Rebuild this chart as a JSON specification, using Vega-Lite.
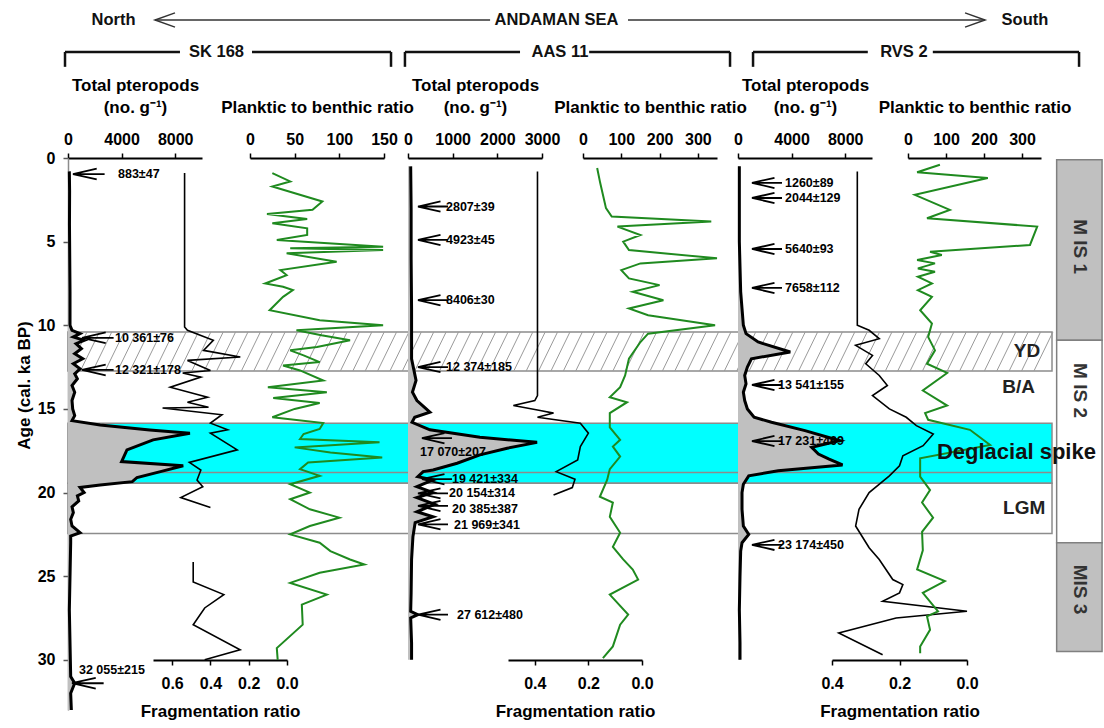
{
"$schema":"https://vega.github.io/schema/vega-lite/v6.json",
"width":1032,"height":552,
"autosize":{"type":"none"},
"padding":{"left":68,"top":158,"right":4,"bottom":18},
"background":"white",
"config":{
 "view":{"stroke":null},
 "font":"Liberation Sans",
 "text":{"font":"Liberation Sans","fontWeight":"bold","color":"black"},
 "axis":{"grid":false,"labelFont":"Liberation Sans","titleFont":"Liberation Sans","labelFontSize":16,"labelFontWeight":"bold","titleFontSize":17,"titleFontWeight":"bold","labelColor":"black","titleColor":"black","domainColor":"black","domainWidth":2,"tickColor":"black","tickWidth":1.5,"tickSize":5,"labelPadding":6,"titlePadding":15,"titleLineHeight":22,"labelOverlap":false,"labelFlush":false},
 "axisBottom":{"labelPadding":10,"titlePadding":12}
},
"datasets":{
 "bands":[{"k":"YD","age":10.4,"age2":12.73},{"k":"DS","age":15.85,"age2":19.45},{"k":"LGM","age":19.45,"age2":22.45}],
 "mis":[{"k":"MIS1","age":0.1,"age2":10.9,"t":"M IS 1","ta":5.3},{"k":"MIS2","age":10.9,"age2":23.0,"t":"M IS 2","ta":13.9},{"k":"MIS3","age":23.0,"age2":29.5,"t":"MIS 3","ta":25.8}],
 "hatch":[{"h":0,"age":12.73,"age2":10.4},{"h":1.2,"age":12.73,"age2":10.4},{"h":2.4,"age":12.73,"age2":10.4},{"h":3.6,"age":12.73,"age2":10.4},{"h":4.8,"age":12.73,"age2":10.4},{"h":6,"age":12.73,"age2":10.4},{"h":7.2,"age":12.73,"age2":10.4},{"h":8.4,"age":12.73,"age2":10.4},{"h":9.6,"age":12.73,"age2":10.4},{"h":10.8,"age":12.73,"age2":10.4},{"h":12,"age":12.73,"age2":10.4},{"h":13.2,"age":12.73,"age2":10.4},{"h":14.4,"age":12.73,"age2":10.4},{"h":15.6,"age":12.73,"age2":10.4},{"h":16.8,"age":12.73,"age2":10.4},{"h":18,"age":12.73,"age2":10.4},{"h":19.2,"age":12.73,"age2":10.4},{"h":20.4,"age":12.73,"age2":10.4},{"h":21.6,"age":12.73,"age2":10.4},{"h":22.8,"age":12.73,"age2":10.4},{"h":24,"age":12.73,"age2":10.4},{"h":25.2,"age":12.73,"age2":10.4},{"h":26.4,"age":12.73,"age2":10.4},{"h":27.6,"age":12.73,"age2":10.4},{"h":28.8,"age":12.73,"age2":10.4},{"h":30,"age":12.73,"age2":10.4},{"h":31.2,"age":12.73,"age2":10.4},{"h":32.4,"age":12.73,"age2":10.4},{"h":33.6,"age":12.73,"age2":10.4},{"h":34.8,"age":12.73,"age2":10.4},{"h":36,"age":12.73,"age2":10.4},{"h":37.2,"age":12.73,"age2":10.4},{"h":38.4,"age":12.73,"age2":10.4},{"h":39.6,"age":12.73,"age2":10.4},{"h":40.8,"age":12.73,"age2":10.4},{"h":42,"age":12.73,"age2":10.4},{"h":43.2,"age":12.73,"age2":10.4},{"h":44.4,"age":12.73,"age2":10.4},{"h":45.6,"age":12.73,"age2":10.4},{"h":46.8,"age":12.73,"age2":10.4},{"h":48,"age":12.73,"age2":10.4},{"h":49.2,"age":12.73,"age2":10.4},{"h":50.4,"age":12.73,"age2":10.4},{"h":51.6,"age":12.73,"age2":10.4},{"h":52.8,"age":12.73,"age2":10.4},{"h":54,"age":12.73,"age2":10.4},{"h":55.2,"age":12.73,"age2":10.4},{"h":56.4,"age":12.73,"age2":10.4},{"h":57.6,"age":12.73,"age2":10.4},{"h":58.8,"age":12.73,"age2":10.4},{"h":60,"age":12.73,"age2":10.4},{"h":61.2,"age":12.73,"age2":10.4},{"h":62.4,"age":12.73,"age2":10.4},{"h":63.6,"age":12.73,"age2":10.4},{"h":64.8,"age":12.73,"age2":10.4},{"h":66,"age":12.73,"age2":10.4},{"h":67.2,"age":12.73,"age2":10.4},{"h":68.4,"age":12.73,"age2":10.4},{"h":69.6,"age":12.73,"age2":10.4},{"h":70.8,"age":12.73,"age2":10.4},{"h":72,"age":12.73,"age2":10.4},{"h":73.2,"age":12.73,"age2":10.4},{"h":74.4,"age":12.73,"age2":10.4},{"h":75.6,"age":12.73,"age2":10.4},{"h":76.8,"age":12.73,"age2":10.4},{"h":78,"age":12.73,"age2":10.4},{"h":79.2,"age":12.73,"age2":10.4},{"h":80.4,"age":12.73,"age2":10.4},{"h":81.6,"age":12.73,"age2":10.4},{"h":82.8,"age":12.73,"age2":10.4},{"h":84,"age":12.73,"age2":10.4},{"h":85.2,"age":12.73,"age2":10.4},{"h":86.4,"age":12.73,"age2":10.4},{"h":87.6,"age":12.73,"age2":10.4},{"h":88.8,"age":12.73,"age2":10.4},{"h":90,"age":12.73,"age2":10.4},{"h":91.2,"age":12.73,"age2":10.4},{"h":92.4,"age":12.73,"age2":10.4},{"h":93.6,"age":12.73,"age2":10.4}],
 "rlab":[{"t":"YD","x":94.2,"age":11.55},{"t":"B/A","x":93.7,"age":13.7},{"t":"LGM","x":94.7,"age":20.9}],
 "htext":[{"t":"North","x":4.41,"age":-8.25},{"t":"ANDAMAN SEA","x":47.33,"age":-8.25},{"t":"South","x":92.73,"age":-8.25},{"t":"SK 168","x":14.39,"age":-6.34},{"t":"AAS 11","x":47.67,"age":-6.34},{"t":"RVS 2","x":81.0,"age":-6.34}],
 "harrow":[{"x":8.43,"x2":40.9,"age":-8.25},{"x":54.26,"x2":88.86,"age":-8.25}],
 "bracket":[{"x":-0.29,"x2":10.85,"age":-6.34},{"x":17.83,"x2":31.3,"age":-6.34},{"x":32.65,"x2":43.8,"age":-6.34},{"x":50.5,"x2":64.15,"age":-6.34},{"x":66.38,"x2":77.5,"age":-6.34},{"x":83.8,"x2":97.97,"age":-6.34}],
 "btick":[{"x":-0.29,"age":-6.34,"age2":-5.45},{"x":31.3,"age":-6.34,"age2":-5.45},{"x":32.65,"age":-6.34,"age2":-5.45},{"x":64.15,"age":-6.34,"age2":-5.45},{"x":66.38,"age":-6.34,"age2":-5.45},{"x":97.97,"age":-6.34,"age2":-5.45}],
 "sk_tp":[{"age":0.8,"v":100},{"age":2,"v":120},{"age":4,"v":110},{"age":6,"v":130},{"age":8,"v":150},{"age":10,"v":150},{"age":10.3,"v":300},{"age":10.5,"v":900},{"age":10.7,"v":400},{"age":10.9,"v":1200},{"age":11.1,"v":600},{"age":11.4,"v":1000},{"age":11.7,"v":500},{"age":12.0,"v":1100},{"age":12.3,"v":400},{"age":12.6,"v":900},{"age":12.9,"v":500},{"age":13.2,"v":700},{"age":13.6,"v":300},{"age":14.0,"v":500},{"age":14.5,"v":300},{"age":15.0,"v":350},{"age":15.4,"v":500},{"age":15.7,"v":300},{"age":15.96,"v":2400},{"age":16.26,"v":6100},{"age":16.45,"v":9100},{"age":16.85,"v":6350},{"age":17.45,"v":4400},{"age":18.15,"v":4000},{"age":18.4,"v":8600},{"age":18.75,"v":6900},{"age":19.1,"v":5150},{"age":19.35,"v":4800},{"age":19.55,"v":2400},{"age":19.7,"v":900},{"age":20.0,"v":1200},{"age":20.2,"v":700},{"age":20.5,"v":800},{"age":20.85,"v":300},{"age":21.2,"v":400},{"age":21.6,"v":200},{"age":22.0,"v":300},{"age":22.4,"v":900},{"age":22.6,"v":200},{"age":23,"v":200},{"age":25,"v":150},{"age":27,"v":100},{"age":29,"v":150},{"age":31,"v":200},{"age":31.4,"v":500},{"age":32,"v":200},{"age":33,"v":250}],
 "sk_fr":[{"s":1,"age":0.9,"v":0.535},{"s":1,"age":10.1,"v":0.535},{"s":1,"age":10.3,"v":0.52},{"s":1,"age":10.9,"v":0.385},{"s":1,"age":11.5,"v":0.436},{"s":1,"age":11.9,"v":0.244},{"s":1,"age":12.1,"v":0.52},{"s":1,"age":12.7,"v":0.40},{"s":1,"age":12.85,"v":0.545},{"s":1,"age":13.1,"v":0.45},{"s":1,"age":13.7,"v":0.61},{"s":1,"age":14.3,"v":0.415},{"s":1,"age":14.6,"v":0.52},{"s":1,"age":14.9,"v":0.41},{"s":1,"age":14.95,"v":0.65},{"s":1,"age":15.35,"v":0.34},{"s":1,"age":15.85,"v":0.40},{"s":1,"age":16.25,"v":0.31},{"s":1,"age":16.45,"v":0.40},{"s":1,"age":17.45,"v":0.26},{"s":1,"age":18.2,"v":0.51},{"s":1,"age":18.65,"v":0.45},{"s":1,"age":19.25,"v":0.47},{"s":1,"age":19.65,"v":0.44},{"s":1,"age":20.3,"v":0.555},{"s":1,"age":20.9,"v":0.40},{"s":2,"age":24.15,"v":0.49},{"s":2,"age":25.35,"v":0.49},{"s":2,"age":26.1,"v":0.33},{"s":2,"age":26.9,"v":0.43},{"s":2,"age":27.9,"v":0.49},{"s":2,"age":29.4,"v":0.245},{"s":2,"age":30.0,"v":0.43}],
 "sk_pb":[{"age":0.9,"v":25},{"age":1.4,"v":45},{"age":1.7,"v":25},{"age":2.6,"v":81},{"age":3.1,"v":70},{"age":3.35,"v":19},{"age":3.65,"v":64},{"age":3.9,"v":25},{"age":4.2,"v":64},{"age":4.6,"v":64},{"age":4.9,"v":30},{"age":5.3,"v":149},{"age":5.4,"v":45},{"age":5.5,"v":149},{"age":5.7,"v":41},{"age":6.2,"v":97},{"age":6.7,"v":34},{"age":7.0,"v":41},{"age":7.5,"v":17},{"age":7.7,"v":37},{"age":7.9,"v":48},{"age":8.3,"v":37},{"age":9.1,"v":22},{"age":9.7,"v":78},{"age":10.0,"v":149},{"age":10.3,"v":52},{"age":10.6,"v":80},{"age":10.9,"v":112},{"age":11.3,"v":75},{"age":11.5,"v":45},{"age":11.8,"v":60},{"age":12.2,"v":78},{"age":12.4,"v":37},{"age":12.7,"v":56},{"age":13.3,"v":82},{"age":13.7,"v":20},{"age":14.0,"v":86},{"age":14.35,"v":26},{"age":14.65,"v":78},{"age":15.0,"v":50},{"age":15.5,"v":25},{"age":15.85,"v":82},{"age":16.2,"v":78},{"age":16.5,"v":60},{"age":16.8,"v":56},{"age":17.0,"v":145},{"age":17.3,"v":50},{"age":17.6,"v":90},{"age":17.9,"v":148},{"age":18.2,"v":65},{"age":18.6,"v":56},{"age":19.0,"v":78},{"age":19.5,"v":45},{"age":20.0,"v":67},{"age":20.4,"v":45},{"age":21.0,"v":67},{"age":21.5,"v":100},{"age":22.0,"v":67},{"age":22.5,"v":45},{"age":23.0,"v":78},{"age":23.5,"v":90},{"age":24.0,"v":112},{"age":24.3,"v":128},{"age":24.8,"v":78},{"age":25.4,"v":45},{"age":26.1,"v":86},{"age":26.7,"v":58},{"age":27.9,"v":59},{"age":29.3,"v":30},{"age":30.0,"v":31}],
 "aa_tp":[{"age":0.5,"v":60},{"age":3,"v":70},{"age":6,"v":70},{"age":9,"v":80},{"age":12,"v":80},{"age":13.3,"v":180},{"age":14.0,"v":100},{"age":14.5,"v":200},{"age":15.2,"v":490},{"age":15.5,"v":150},{"age":15.8,"v":90},{"age":16.25,"v":490},{"age":16.7,"v":1610},{"age":17.0,"v":2890},{"age":17.35,"v":2220},{"age":17.75,"v":1610},{"age":18.25,"v":1100},{"age":18.65,"v":560},{"age":18.75,"v":340},{"age":19.05,"v":220},{"age":19.25,"v":560},{"age":19.65,"v":200},{"age":20.0,"v":560},{"age":20.3,"v":200},{"age":20.7,"v":600},{"age":21.15,"v":200},{"age":21.45,"v":560},{"age":21.8,"v":160},{"age":22.65,"v":110},{"age":24,"v":80},{"age":26,"v":70},{"age":27.1,"v":60},{"age":27.3,"v":220},{"age":27.5,"v":60},{"age":29,"v":80},{"age":30,"v":80}],
 "aa_fr":[{"age":0.8,"v":0.39},{"age":14.2,"v":0.39},{"age":14.5,"v":0.40},{"age":14.8,"v":0.48},{"age":15.1,"v":0.38},{"age":15.25,"v":0.33},{"age":15.5,"v":0.39},{"age":15.85,"v":0.23},{"age":16.45,"v":0.20},{"age":17.25,"v":0.23},{"age":18.05,"v":0.24},{"age":18.75,"v":0.32},{"age":19.2,"v":0.25},{"age":19.7,"v":0.26},{"age":20.15,"v":0.33}],
 "aa_pb":[{"age":0.6,"v":37},{"age":1.5,"v":45},{"age":2.5,"v":55},{"age":3.0,"v":60},{"age":3.5,"v":75},{"age":3.8,"v":335},{"age":4.1,"v":90},{"age":4.6,"v":150},{"age":5.0,"v":105},{"age":5.5,"v":120},{"age":6.0,"v":350},{"age":6.3,"v":150},{"age":6.7,"v":100},{"age":7.2,"v":120},{"age":7.6,"v":200},{"age":8.0,"v":130},{"age":8.5,"v":210},{"age":9.0,"v":120},{"age":9.4,"v":170},{"age":10.0,"v":345},{"age":10.5,"v":170},{"age":11.0,"v":150},{"age":12.0,"v":120},{"age":13.0,"v":110},{"age":13.7,"v":97},{"age":14.3,"v":70},{"age":14.6,"v":115},{"age":15.25,"v":70},{"age":16.1,"v":70},{"age":16.85,"v":97},{"age":17.25,"v":78},{"age":17.85,"v":97},{"age":18.6,"v":70},{"age":19.25,"v":63},{"age":20.25,"v":44},{"age":20.6,"v":78},{"age":21.45,"v":70},{"age":22.4,"v":97},{"age":23.25,"v":78},{"age":24.0,"v":105},{"age":24.6,"v":130},{"age":25.2,"v":144},{"age":26.1,"v":70},{"age":27.3,"v":118},{"age":27.9,"v":97},{"age":29.2,"v":78},{"age":29.9,"v":52}],
 "rv_tp":[{"age":0.5,"v":100},{"age":5,"v":100},{"age":8,"v":200},{"age":9,"v":300},{"age":10,"v":400},{"age":10.5,"v":600},{"age":11.0,"v":1500},{"age":11.6,"v":3900},{"age":12.0,"v":1000},{"age":12.5,"v":700},{"age":13,"v":500},{"age":13.5,"v":600},{"age":14,"v":400},{"age":14.5,"v":500},{"age":15,"v":700},{"age":15.5,"v":1200},{"age":15.8,"v":2500},{"age":16.3,"v":5000},{"age":16.9,"v":7600},{"age":17.3,"v":5500},{"age":17.7,"v":6000},{"age":18.0,"v":6800},{"age":18.35,"v":7800},{"age":18.7,"v":3000},{"age":19.0,"v":800},{"age":19.5,"v":400},{"age":20,"v":300},{"age":21,"v":300},{"age":22,"v":400},{"age":22.5,"v":800},{"age":23,"v":300},{"age":23.5,"v":200},{"age":25,"v":150},{"age":27,"v":100},{"age":29,"v":150},{"age":30,"v":150}],
 "rv_fr":[{"age":0.8,"v":0.325},{"age":10.0,"v":0.325},{"age":10.3,"v":0.29},{"age":10.8,"v":0.26},{"age":11.2,"v":0.33},{"age":11.8,"v":0.28},{"age":12.3,"v":0.30},{"age":13.0,"v":0.26},{"age":13.6,"v":0.236},{"age":14.2,"v":0.28},{"age":15.0,"v":0.23},{"age":15.5,"v":0.18},{"age":16.0,"v":0.15},{"age":16.5,"v":0.10},{"age":17.2,"v":0.13},{"age":17.8,"v":0.19},{"age":18.4,"v":0.20},{"age":19.0,"v":0.23},{"age":20.0,"v":0.29},{"age":21.0,"v":0.32},{"age":22.0,"v":0.33},{"age":23.3,"v":0.29},{"age":24.0,"v":0.26},{"age":25.2,"v":0.22},{"age":25.5,"v":0.19},{"age":26.0,"v":0.2},{"age":26.5,"v":0.25},{"age":27.1,"v":0.0},{"age":27.5,"v":0.21},{"age":28.4,"v":0.38},{"age":29.7,"v":0.25}],
 "rv_pb":[{"age":0.4,"v":84},{"age":0.85,"v":24},{"age":1.2,"v":210},{"age":2.2,"v":18},{"age":3.1,"v":110},{"age":3.6,"v":50},{"age":4.1,"v":340},{"age":5.2,"v":321},{"age":5.6,"v":58},{"age":5.8,"v":89},{"age":6.1,"v":24},{"age":6.3,"v":71},{"age":6.6,"v":26},{"age":6.8,"v":71},{"age":7.1,"v":26},{"age":7.5,"v":63},{"age":7.9,"v":26},{"age":8.3,"v":63},{"age":9.1,"v":32},{"age":9.9,"v":63},{"age":10.7,"v":53},{"age":11.5,"v":71},{"age":12.3,"v":50},{"age":12.85,"v":103},{"age":13.9,"v":39},{"age":14.8,"v":103},{"age":15.25,"v":45},{"age":15.65,"v":53},{"age":16.25,"v":163},{"age":17.15,"v":216},{"age":17.95,"v":32},{"age":19.05,"v":32},{"age":19.85,"v":58},{"age":20.6,"v":37},{"age":21.5,"v":66},{"age":22.35,"v":37},{"age":23.45,"v":39},{"age":24.6,"v":24},{"age":25.3,"v":97},{"age":26.0,"v":39},{"age":27.1,"v":79},{"age":27.4,"v":50},{"age":28.2,"v":58},{"age":29.2,"v":32},{"age":29.6,"v":32}],
 "sk_arr":[{"v":373,"age":0.96},{"v":1044,"age":10.75},{"v":1044,"age":12.67},{"v":300,"age":31.4}],
 "sk_lab":[{"t":"883±47","v":3730,"age":0.96},{"t":"10 361±76","v":3506,"age":10.75},{"t":"12 321±178","v":3506,"age":12.67},{"t":"32 055±215","v":820,"age":30.6}],
 "aa_arr":[{"v":224,"age":2.9},{"v":224,"age":4.9},{"v":224,"age":8.5},{"v":224,"age":12.5},{"v":313,"age":16.75},{"v":313,"age":19.2},{"v":224,"age":20.05},{"v":224,"age":20.8},{"v":224,"age":21.9},{"v":224,"age":27.3}],
 "aa_lab":[{"t":"2807±39","v":851,"age":2.9},{"t":"4923±45","v":851,"age":4.9},{"t":"8406±30","v":851,"age":8.5},{"t":"12 374±185","v":851,"age":12.5},{"t":"17 070±207","v":269,"age":17.6},{"t":"19 421±334","v":985,"age":19.2},{"t":"20 154±314","v":918,"age":20.05},{"t":"20 385±387","v":985,"age":20.98},{"t":"21 969±341","v":1030,"age":21.95},{"t":"27 612±480","v":1097,"age":27.3}],
 "rv_arr":[{"v":1044,"age":1.49},{"v":1044,"age":2.39},{"v":1044,"age":5.44},{"v":1044,"age":7.77},{"v":1044,"age":13.57},{"v":1044,"age":16.92},{"v":1044,"age":23.13}],
 "rv_lab":[{"t":"1260±89","v":3506,"age":1.49},{"t":"2044±129","v":3506,"age":2.39},{"t":"5640±93","v":3506,"age":5.44},{"t":"7658±112","v":3506,"age":7.77},{"t":"13 541±155","v":2984,"age":13.57},{"t":"17 231±469","v":2984,"age":16.92},{"t":"23 174±450","v":2984,"age":23.13}]
},
"encoding":{"y":{"field":"age","type":"quantitative","scale":{"domain":[0,33],"reverse":true,"nice":false,"zero":false},"axis":{"values":[0,5,10,15,20,25,30],"title":"Age (cal. ka BP)","domainColor":"#8c8c8c","domainWidth":1.5,"tickColor":"#555","tickWidth":1.5,"tickSize":5,"labelPadding":8,"titleFontSize":17,"titleX":-35,"titleY":227}}},
"layer":[
 {"data":{"name":"bands"},"mark":{"type":"rect","stroke":"#8c8c8c","strokeWidth":1.5},
  "encoding":{"x":{"datum":0,"type":"quantitative","scale":{"domain":[0,100],"nice":false},"axis":null},"x2":{"datum":95.35},"y2":{"field":"age2"},
   "color":{"field":"k","type":"nominal","scale":{"domain":["YD","DS","LGM"],"range":["white","#00ffff","white"]},"legend":null}}},
 {"data":{"values":[{"age":18.8}]},"mark":{"type":"rule","stroke":"#8c8c8c","strokeWidth":1.5},
  "encoding":{"x":{"datum":0,"type":"quantitative","scale":{"domain":[0,100],"nice":false},"axis":null},"x2":{"datum":95.35}}},
 {"data":{"name":"hatch"},"mark":{"type":"rule","stroke":"#9a9a9a","strokeWidth":1,"x2Offset":19},
  "encoding":{"x":{"field":"h","type":"quantitative","scale":{"domain":[0,100],"nice":false},"axis":null},"x2":{"field":"h"},"y2":{"field":"age2"}}},
 {"data":{"name":"mis"},"mark":{"type":"rect","stroke":"#808080","strokeWidth":1.5},
  "encoding":{"x":{"datum":95.8,"type":"quantitative","scale":{"domain":[0,100],"nice":false},"axis":null},"x2":{"datum":100.2},"y2":{"field":"age2"},
   "color":{"field":"k","type":"nominal","scale":{"domain":["MIS1","MIS2","MIS3"],"range":["#c0c0c0","white","#c0c0c0"]},"legend":null}}},
 {"data":{"name":"mis"},"mark":{"type":"text","angle":90,"fontSize":19,"color":"#333"},
  "encoding":{"x":{"datum":98.06,"type":"quantitative","scale":{"domain":[0,100],"nice":false},"axis":null},"y":{"field":"ta","type":"quantitative"},"text":{"field":"t"}}},
 {"data":{"name":"sk_tp"},"mark":{"type":"area","orient":"horizontal","color":"#c0c0c0"},
  "encoding":{"x":{"field":"v","type":"quantitative","stack":null,"scale":{"domain":[0,10000],"range":[0,134],"nice":false},"axis":null}}},
 {"data":{"name":"sk_tp"},"mark":{"type":"line","color":"black","strokeWidth":3},
  "encoding":{"x":{"field":"v","type":"quantitative","scale":{"domain":[0,10000],"range":[0,134],"nice":false},"axis":{"orient":"top","values":[0,4000,8000],"format":"d","title":["Total pteropods","(no. g⁻¹)"]}},"order":{"field":"age"}}},
 {"data":{"name":"sk_fr"},"mark":{"type":"line","color":"black","strokeWidth":1.6},
  "encoding":{"x":{"field":"v","type":"quantitative","scale":{"domain":[0,0.7],"range":[219,85],"nice":false},"axis":{"orient":"bottom","offset":-50,"values":[0.6,0.4,0.2,0],"format":".1f","title":"Fragmentation ratio"}},"detail":{"field":"s"},"order":{"field":"age"}}},
 {"data":{"name":"sk_pb"},"mark":{"type":"line","color":"#1f8a1f","strokeWidth":2},
  "encoding":{"x":{"field":"v","type":"quantitative","scale":{"domain":[0,150],"range":[182,316],"nice":false},"axis":{"orient":"top","values":[0,50,100,150],"title":"Planktic to benthic ratio"}},"order":{"field":"age"}}},
 {"data":{"name":"aa_tp"},"mark":{"type":"area","orient":"horizontal","color":"#c0c0c0"},
  "encoding":{"x":{"field":"v","type":"quantitative","stack":null,"scale":{"domain":[0,3000],"range":[340,474],"nice":false},"axis":null}}},
 {"data":{"name":"aa_tp"},"mark":{"type":"line","color":"black","strokeWidth":3},
  "encoding":{"x":{"field":"v","type":"quantitative","scale":{"domain":[0,3000],"range":[340,474],"nice":false},"axis":{"orient":"top","values":[0,1000,2000,3000],"format":"d","title":["Total pteropods","(no. g⁻¹)"]}},"order":{"field":"age"}}},
 {"data":{"name":"aa_fr"},"mark":{"type":"line","color":"black","strokeWidth":1.6},
  "encoding":{"x":{"field":"v","type":"quantitative","scale":{"domain":[0,0.5],"range":[574,440],"nice":false},"axis":{"orient":"bottom","offset":-50,"values":[0.4,0.2,0],"format":".1f","title":"Fragmentation ratio"}},"order":{"field":"age"}}},
 {"data":{"name":"aa_pb"},"mark":{"type":"line","color":"#1f8a1f","strokeWidth":2},
  "encoding":{"x":{"field":"v","type":"quantitative","scale":{"domain":[0,350],"range":[515,649],"nice":false},"axis":{"orient":"top","values":[0,100,200,300],"title":"Planktic to benthic ratio"}},"order":{"field":"age"}}},
 {"data":{"name":"rv_tp"},"mark":{"type":"area","orient":"horizontal","color":"#c0c0c0"},
  "encoding":{"x":{"field":"v","type":"quantitative","stack":null,"scale":{"domain":[0,10000],"range":[670,804],"nice":false},"axis":null}}},
 {"data":{"name":"rv_tp"},"mark":{"type":"line","color":"black","strokeWidth":3},
  "encoding":{"x":{"field":"v","type":"quantitative","scale":{"domain":[0,10000],"range":[670,804],"nice":false},"axis":{"orient":"top","values":[0,4000,8000],"format":"d","title":["Total pteropods","(no. g⁻¹)"]}},"order":{"field":"age"}}},
 {"data":{"name":"rv_fr"},"mark":{"type":"line","color":"black","strokeWidth":1.6},
  "encoding":{"x":{"field":"v","type":"quantitative","scale":{"domain":[0,0.4],"range":[899,764],"nice":false},"axis":{"orient":"bottom","offset":-50,"values":[0.4,0.2,0],"format":".1f","title":"Fragmentation ratio"}},"order":{"field":"age"}}},
 {"data":{"name":"rv_pb"},"mark":{"type":"line","color":"#1f8a1f","strokeWidth":2},
  "encoding":{"x":{"field":"v","type":"quantitative","scale":{"domain":[0,350],"range":[840,973],"nice":false},"axis":{"orient":"top","values":[0,100,200,300],"title":"Planktic to benthic ratio"}},"order":{"field":"age"}}},
 {"data":{"name":"rlab"},"mark":{"type":"text","fontSize":19,"align":"right","color":"#222"},
  "encoding":{"x":{"field":"x","type":"quantitative","scale":{"domain":[0,100],"nice":false},"axis":null},"text":{"field":"t"}}},
 {"data":{"values":[{"t":"Deglacial spike","x":84.2,"age":17.6}]},"mark":{"type":"text","fontSize":22,"align":"left","color":"#111"},
  "encoding":{"x":{"field":"x","type":"quantitative","scale":{"domain":[0,100],"nice":false},"axis":null},"text":{"field":"t"}}},
 {"data":{"name":"sk_arr"},"mark":{"type":"point","shape":"M 0 0 L 2 0 M 1.5 -0.34 L 0 0 L 1.5 0.34","size":1000,"filled":false,"stroke":"black","strokeWidth":1.8,"opacity":1},
  "encoding":{"x":{"field":"v","type":"quantitative","scale":{"domain":[0,10000],"range":[0,134],"nice":false},"axis":null}}},
 {"data":{"name":"sk_lab"},"mark":{"type":"text","fontSize":12.5,"align":"left"},
  "encoding":{"x":{"field":"v","type":"quantitative","scale":{"domain":[0,10000],"range":[0,134],"nice":false},"axis":null},"text":{"field":"t"}}},
 {"data":{"name":"aa_arr"},"mark":{"type":"point","shape":"M 0 0 L 2 0 M 1.5 -0.34 L 0 0 L 1.5 0.34","size":900,"filled":false,"stroke":"black","strokeWidth":1.8,"opacity":1},
  "encoding":{"x":{"field":"v","type":"quantitative","scale":{"domain":[0,3000],"range":[340,474],"nice":false},"axis":null}}},
 {"data":{"name":"aa_lab"},"mark":{"type":"text","fontSize":12.5,"align":"left"},
  "encoding":{"x":{"field":"v","type":"quantitative","scale":{"domain":[0,3000],"range":[340,474],"nice":false},"axis":null},"text":{"field":"t"}}},
 {"data":{"name":"rv_arr"},"mark":{"type":"point","shape":"M 0 0 L 2 0 M 1.5 -0.34 L 0 0 L 1.5 0.34","size":900,"filled":false,"stroke":"black","strokeWidth":1.8,"opacity":1},
  "encoding":{"x":{"field":"v","type":"quantitative","scale":{"domain":[0,10000],"range":[670,804],"nice":false},"axis":null}}},
 {"data":{"name":"rv_lab"},"mark":{"type":"text","fontSize":12.5,"align":"left"},
  "encoding":{"x":{"field":"v","type":"quantitative","scale":{"domain":[0,10000],"range":[670,804],"nice":false},"axis":null},"text":{"field":"t"}}},
 {"data":{"name":"htext"},"mark":{"type":"text","fontSize":16.5,"color":"#111"},
  "encoding":{"x":{"field":"x","type":"quantitative","scale":{"domain":[0,100],"nice":false},"axis":null},"text":{"field":"t"}}},
 {"data":{"name":"harrow"},"mark":{"type":"rule","stroke":"#333","strokeWidth":1.5},
  "encoding":{"x":{"field":"x","type":"quantitative","scale":{"domain":[0,100],"nice":false},"axis":null},"x2":{"field":"x2"}}},
 {"data":{"name":"bracket"},"mark":{"type":"rule","stroke":"#111","strokeWidth":2.5},
  "encoding":{"x":{"field":"x","type":"quantitative","scale":{"domain":[0,100],"nice":false},"axis":null},"x2":{"field":"x2"}}},
 {"data":{"name":"btick"},"mark":{"type":"rule","stroke":"#111","strokeWidth":2.5},
  "encoding":{"x":{"field":"x","type":"quantitative","scale":{"domain":[0,100],"nice":false},"axis":null},"y2":{"field":"age2"}}},
 {"data":{"values":[{"x":8.43,"age":-8.25}]},"mark":{"type":"point","shape":"M 1.4 -0.5 L 0 0 L 1.4 0.5","size":816,"filled":false,"stroke":"#333","strokeWidth":1.5,"opacity":1},
  "encoding":{"x":{"field":"x","type":"quantitative","scale":{"domain":[0,100],"nice":false},"axis":null}}},
 {"data":{"values":[{"x":88.86,"age":-8.25}]},"mark":{"type":"point","shape":"M -1.4 -0.5 L 0 0 L -1.4 0.5","size":816,"filled":false,"stroke":"#333","strokeWidth":1.5,"opacity":1},
  "encoding":{"x":{"field":"x","type":"quantitative","scale":{"domain":[0,100],"nice":false},"axis":null}}}
],
"resolve":{"scale":{"x":"independent","color":"independent"}}
}
